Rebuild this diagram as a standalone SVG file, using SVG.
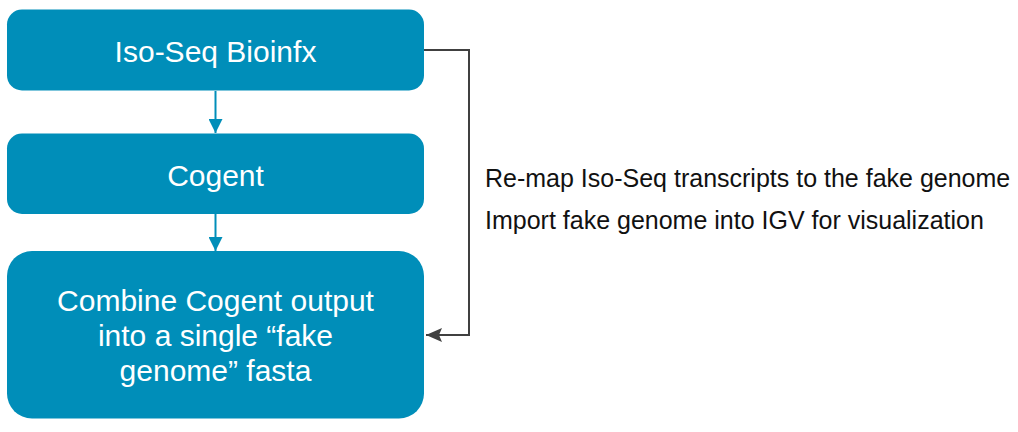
<svg xmlns="http://www.w3.org/2000/svg" width="1018" height="432" viewBox="0 0 1018 432">
<style>
.box{fill:#008EB9;}
.bt{font-family:"Liberation Sans",Arial,sans-serif;font-size:30px;fill:#ffffff;text-anchor:middle;}
.side{font-family:"Liberation Sans",Arial,sans-serif;font-size:25px;fill:#111111;}
.blue{stroke:#008EB9;stroke-width:2;fill:none;}
.dark{stroke:#404040;stroke-width:2;fill:none;}
</style>
<defs>
<marker id="ab" markerWidth="14" markerHeight="14" refX="14" refY="7" orient="auto" markerUnits="userSpaceOnUse">
<path d="M0,0 L14,7 L0,14 Z" fill="#008EB9"/>
</marker>
<marker id="ad" markerWidth="16" markerHeight="14" refX="16" refY="7" orient="auto" markerUnits="userSpaceOnUse">
<path d="M0,0 L16,7 L0,14 L3,7 Z" fill="#404040"/>
</marker>
</defs>
<rect width="1018" height="432" fill="#ffffff"/>
<g id="connectors">
<line class="blue" x1="215.5" y1="91" x2="215.5" y2="133" marker-end="url(#ab)"/>
<line class="blue" x1="215.5" y1="214" x2="215.5" y2="251" marker-end="url(#ab)"/>
<polyline class="dark" points="424,50 469,50 469,335 426,335" marker-end="url(#ad)"/>
</g>
<g id="node-isoseq">
<rect class="box" x="7" y="9.5" width="417" height="81" rx="15" ry="15"/>
<text class="bt" x="215.5" y="62">Iso-Seq Bioinfx</text>
</g>
<g id="node-cogent">
<rect class="box" x="7" y="133.5" width="417" height="80.5" rx="15" ry="15"/>
<text class="bt" x="215.5" y="186">Cogent</text>
</g>
<g id="node-combine">
<rect class="box" x="7" y="251" width="417" height="167.5" rx="25" ry="25"/>
<text class="bt" x="215.5" y="311">Combine Cogent output</text>
<text class="bt" x="215.5" y="345.5">into a single “fake</text>
<text class="bt" x="215.5" y="380.5">genome” fasta</text>
</g>
<g id="side-text">
<text class="side" x="485" y="187">Re-map Iso-Seq transcripts to the fake genome</text>
<text class="side" x="485" y="229">Import fake genome into IGV for visualization</text>
</g>
</svg>
